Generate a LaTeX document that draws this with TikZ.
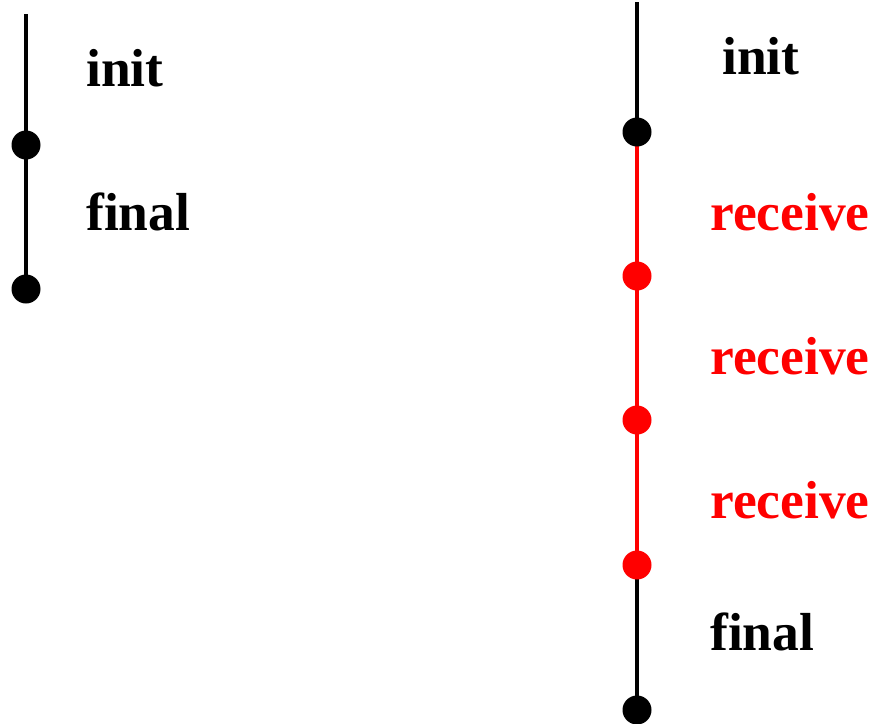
\documentclass[tikz,border=0pt]{standalone}
\usepackage{fontspec}
\setmainfont{Liberation Serif}
\begin{document}
\begin{tikzpicture}[x=1pt,y=1pt,
  dot/.style={circle,fill=#1,inner sep=0pt,minimum size=29pt},
  dot/.default=black,
  lbl/.style={anchor=base west,inner sep=0pt,font=\fontsize{53.5}{60}\selectfont\bfseries,text=#1},
  lbl/.default=black,
  seg/.style={line width=3.5pt,draw=#1},
  seg/.default=black]
\useasboundingbox (0,0) rectangle (877,-723);
% left
\coordinate (ltop) at (26,-14);
\coordinate (l1) at (26,-145);
\coordinate (l2) at (26,-289);
\draw[seg] (ltop) -- (l1);
\draw[seg] (l1) -- (l2);
\node[dot] (ld1) at (l1) {};
\node[dot] (ld2) at (l2) {};
\node[lbl] (linit) at (86,-86) {init};
\node[lbl] (lfinal) at (86,-230) {final};
% right
\coordinate (rtop) at (637,-2);
\coordinate (r1) at (637,-132);
\coordinate (r2) at (637,-276);
\coordinate (r3) at (637,-420);
\coordinate (r4) at (637,-565);
\coordinate (r5) at (637,-710);
\draw[seg] (rtop) -- (r1);
\draw[seg=red] (r1) -- (r2);
\draw[seg=red] (r2) -- (r3);
\draw[seg=red] (r3) -- (r4);
\draw[seg] (r4) -- (r5);
\node[dot] (d1) at (r1) {};
\node[dot=red] (d2) at (r2) {};
\node[dot=red] (d3) at (r3) {};
\node[dot=red] (d4) at (r4) {};
\node[dot] (d5) at (r5) {};
\node[lbl] (rinit) at (722,-74) {init};
\node[lbl=red] (rec1) at (710,-230) {receive};
\node[lbl=red] (rec2) at (710,-374) {receive};
\node[lbl=red] (rec3) at (710,-518) {receive};
\node[lbl] (rfinal) at (710,-650) {final};
\end{tikzpicture}
\end{document}
